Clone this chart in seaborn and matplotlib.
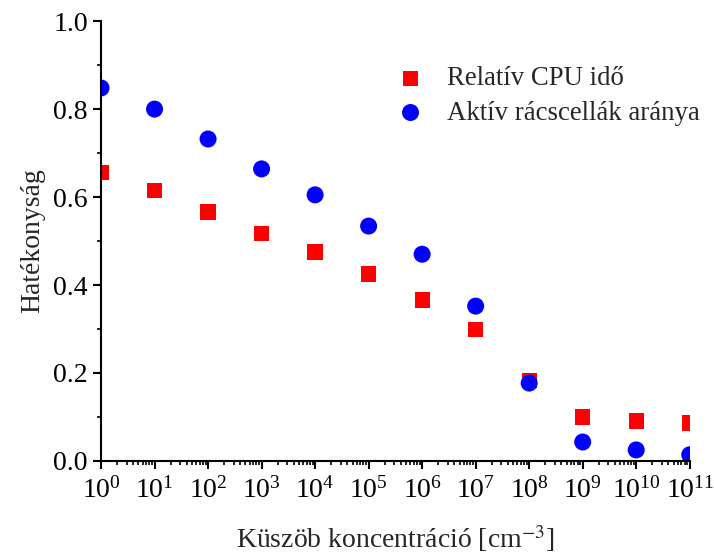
import numpy as np
import pandas as pd
import matplotlib
matplotlib.use('Agg')
import matplotlib.pyplot as plt
import matplotlib.ticker as mticker
import seaborn as sns

# data
concentration = [1e0, 1e1, 1e2, 1e3, 1e4, 1e5, 1e6, 1e7, 1e8, 1e9, 1e10, 1e11]
cpu_time = [0.655, 0.614, 0.566, 0.518, 0.475, 0.425, 0.366, 0.298, 0.182, 0.100, 0.091, 0.086]
active_cells = [0.848, 0.800, 0.732, 0.664, 0.605, 0.534, 0.470, 0.352, 0.177, 0.043, 0.025, 0.014]
series_names = ['Relatív CPU idő', 'Aktív rácscellák aránya']

df = pd.DataFrame({
    'x': concentration * 2,
    'y': cpu_time + active_cells,
    'series': [series_names[0]] * len(cpu_time) + [series_names[1]] * len(active_cells),
})

sns.set_style('ticks')
plt.rcParams['font.family'] = ['Liberation Serif', 'DejaVu Serif']
plt.rcParams['mathtext.fontset'] = 'stix'
plt.rcParams['font.size'] = 20

fig = plt.figure(figsize=(7.14, 5.56), dpi=100)
ax = fig.add_axes([0.1415, 0.171, 0.8245, 0.791])

sns.scatterplot(data=df[df.series == series_names[0]], x='x', y='y', marker='s', s=120,
                color='#ff0000', edgecolor='none', label=series_names[0], ax=ax)
sns.scatterplot(data=df[df.series == series_names[1]], x='x', y='y', marker='o', s=150,
                color='#0000ff', edgecolor='none', label=series_names[1], ax=ax)

ax.set_xscale('log')
ax.set_xlim(1, 1e11)
ax.set_ylim(0, 1.0)
ax.xaxis.set_major_locator(mticker.LogLocator(base=10, numticks=20))
ax.xaxis.set_minor_locator(mticker.LogLocator(base=10, subs=np.arange(2, 10), numticks=20))
ax.xaxis.set_minor_formatter(mticker.NullFormatter())
ax.yaxis.set_major_locator(mticker.MultipleLocator(0.2))
ax.yaxis.set_minor_locator(mticker.MultipleLocator(0.1))
ax.yaxis.set_major_formatter(mticker.FormatStrFormatter('%.1f'))

for side in ['top', 'right']:
    ax.spines[side].set_visible(False)
for side in ['left', 'bottom']:
    ax.spines[side].set_linewidth(1.5)
    ax.spines[side].set_color('black')
ax.tick_params(which='major', direction='out', length=6, width=1.5, labelsize=20, colors='black')
ax.tick_params(which='minor', direction='out', length=3, width=1.2, colors='black')
ax.tick_params(axis='x', which='major', pad=6)

ax.set_xlabel('Küszöb koncentráció [cm$^{-3}$]', fontsize=20, labelpad=14)
ax.set_ylabel('Hatékonyság', fontsize=20, labelpad=6)

ax.legend(loc='upper left', bbox_to_anchor=(0.462, 0.922), frameon=False, fontsize=19.3,
          handletextpad=0.35, labelspacing=0.35, borderaxespad=0)

fig.savefig('out.png', dpi=100)
